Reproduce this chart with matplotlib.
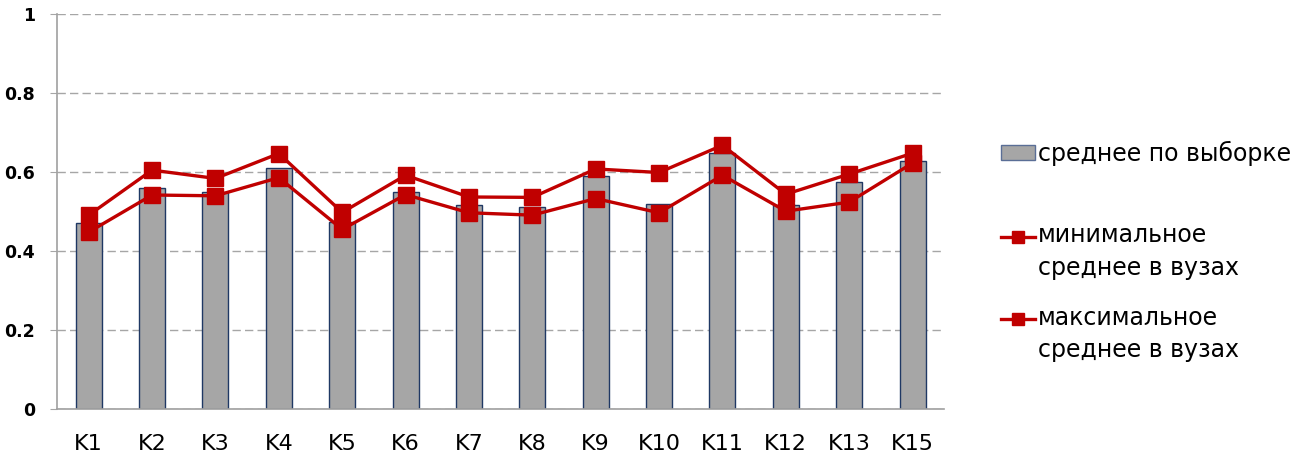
import matplotlib.pyplot as plt
import numpy as np
from matplotlib.lines import Line2D
from matplotlib.patches import Patch
from matplotlib.legend_handler import HandlerLine2D

categories = ['K1', 'K2', 'K3', 'K4', 'K5', 'K6', 'K7', 'K8', 'K9', 'K10',
              'K11', 'K12', 'K13', 'K15']
sample_mean = [0.471, 0.559, 0.549, 0.611, 0.473, 0.550, 0.516, 0.511, 0.590,
               0.519, 0.648, 0.516, 0.575, 0.628]
min_mean = [0.448, 0.542, 0.540, 0.586, 0.455, 0.543, 0.497, 0.491, 0.533,
            0.497, 0.592, 0.501, 0.524, 0.623]
max_mean = [0.491, 0.605, 0.584, 0.647, 0.498, 0.592, 0.537, 0.536, 0.608,
            0.599, 0.668, 0.544, 0.595, 0.648]
y_ticks = [0, 0.2, 0.4, 0.6, 0.8, 1]
y_tick_labels = ['0', '0.2', '0.4', '0.6', '0.8', '1']

bar_color = '#A6A6A6'
bar_edge = '#1F3864'
red = '#C00000'
grid_color = '#A6A6A6'


class FirstLineHandler(HandlerLine2D):
    # put the legend marker next to the first line of a two-line label
    def create_artists(self, legend, orig_handle, xdescent, ydescent,
                       width, height, fontsize, trans):
        artists = super().create_artists(legend, orig_handle, xdescent, ydescent,
                                         width, height, fontsize, trans)
        for a in artists:
            a.set_ydata(np.asarray(a.get_ydata()) + 11.5)
        return artists


fig = plt.figure(figsize=(12.99, 4.57), dpi=100)
ax = fig.add_axes([0.0439, 0.105, 0.683, 0.864])

x = np.arange(len(categories))
ax.bar(x, sample_mean, width=0.41, color=bar_color, edgecolor=bar_edge,
       linewidth=1.0, zorder=2)
ax.plot(x, min_mean, color=red, lw=2.4, marker='s', markersize=11.5, zorder=3)
ax.plot(x, max_mean, color=red, lw=2.4, marker='s', markersize=11.5, zorder=3)

ax.set_xlim(-0.5, len(categories) - 0.5)
ax.set_ylim(0, 1)
ax.set_yticks(y_ticks)
ax.set_yticklabels(y_tick_labels, fontweight='bold', fontsize=12.5)
ax.set_xticks(x)
ax.set_xticklabels(categories, fontsize=16)
ax.tick_params(axis='x', length=0, pad=18)
ax.tick_params(axis='y', length=5, color=grid_color, pad=11)
ax.yaxis.grid(True, color=grid_color, linestyle=(0, (6, 3)), linewidth=1.0, zorder=0)
ax.set_axisbelow(True)
for side in ['top', 'right']:
    ax.spines[side].set_visible(False)
for side in ['left', 'bottom']:
    ax.spines[side].set_color('#A0A0A0')
    ax.spines[side].set_linewidth(1.2)

# legend: bar entry on its own, line entries below
h_bar = Patch(facecolor=bar_color, edgecolor='#5A6E96', linewidth=1.0)
fig.legend([h_bar], ['среднее по выборке'], loc='center left',
           bbox_to_anchor=(0.763, 0.665), frameon=False, fontsize=17,
           handlelength=1.45, handleheight=0.6, handletextpad=0.15,
           borderaxespad=0)
h_min = Line2D([], [], color=red, lw=2.4, marker='s', markersize=9)
h_max = Line2D([], [], color=red, lw=2.4, marker='s', markersize=9)
leg2 = fig.legend([h_min, h_max],
                  ['минимальное\nсреднее в вузах', 'максимальное\nсреднее в вузах'],
                  loc='center left', bbox_to_anchor=(0.763, 0.359), frameon=False,
                  fontsize=17, handlelength=1.45, handletextpad=0.15,
                  labelspacing=1.1, borderaxespad=0,
                  handler_map={Line2D: FirstLineHandler()})
for t in leg2.get_texts():
    t.set_linespacing(1.45)

fig.savefig('out.png', dpi=100)
